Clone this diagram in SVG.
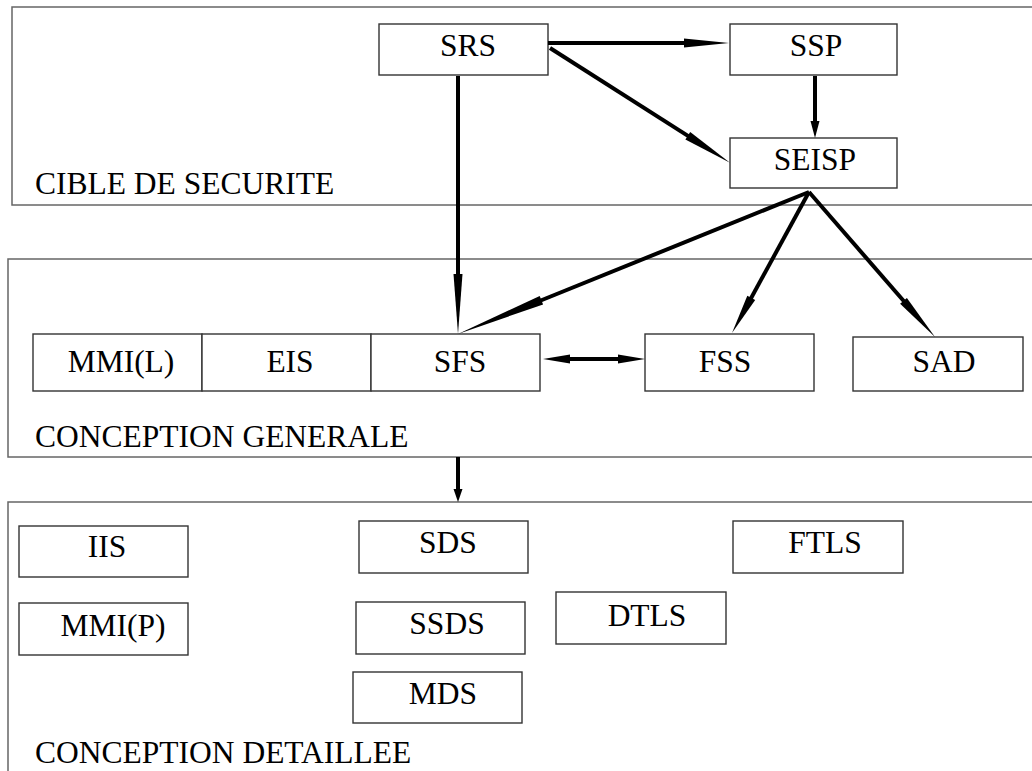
<svg xmlns="http://www.w3.org/2000/svg" width="1032" height="771" viewBox="0 0 1032 771">
<style>
.panel{fill:none;stroke:#666;stroke-width:1.5}
.box{fill:#fff;stroke:#333;stroke-width:1.4}
.lbl{font-size:31.5px;fill:#000;text-anchor:middle}
.plbl{font-size:31.5px;fill:#000}
.ln{stroke:#000;stroke-width:4;fill:none}
.hd{fill:#000;stroke:none}
</style>
<rect width="1032" height="771" fill="#fff"/>
<g font-family="'Liberation Serif', 'DejaVu Serif', 'Times New Roman', Times, serif">
<g id="panel-cible">
<rect class="panel" x="12" y="7" width="1040" height="198"/>
<text class="plbl" x="35" y="194">CIBLE DE SECURITE</text>
</g>
<g id="panel-generale">
<rect class="panel" x="8" y="259" width="1044" height="198"/>
<text class="plbl" x="35" y="447">CONCEPTION GENERALE</text>
</g>
<g id="panel-detaillee">
<rect class="panel" x="8" y="502" width="1044" height="300"/>
<text class="plbl" x="35" y="763">CONCEPTION DETAILLEE</text>
</g>
<g id="SRS"><rect class="box" x="379" y="24" width="169" height="51"/><text class="lbl" x="468" y="56">SRS</text></g>
<g id="SSP"><rect class="box" x="730" y="24" width="167" height="51"/><text class="lbl" x="816" y="56">SSP</text></g>
<g id="SEISP"><rect class="box" x="730" y="138" width="167" height="50"/><text class="lbl" x="815" y="170">SEISP</text></g>
<g id="MMI-L"><rect class="box" x="33" y="334" width="169" height="57"/><text class="lbl" x="121" y="372">MMI(L)</text></g>
<g id="EIS"><rect class="box" x="202" y="334" width="169" height="57"/><text class="lbl" x="290" y="372">EIS</text></g>
<g id="SFS"><rect class="box" x="371" y="334" width="169" height="57"/><text class="lbl" x="460" y="372">SFS</text></g>
<g id="FSS"><rect class="box" x="645" y="334" width="169" height="57"/><text class="lbl" x="725" y="372">FSS</text></g>
<g id="SAD"><rect class="box" x="853" y="337" width="170" height="54"/><text class="lbl" x="944" y="372">SAD</text></g>
<g id="IIS"><rect class="box" x="19" y="526" width="169" height="51"/><text class="lbl" x="107" y="557">IIS</text></g>
<g id="MMI-P"><rect class="box" x="19" y="603" width="169" height="52"/><text class="lbl" x="113" y="636">MMI(P)</text></g>
<g id="SDS"><rect class="box" x="359" y="521" width="169" height="52"/><text class="lbl" x="448" y="553">SDS</text></g>
<g id="SSDS"><rect class="box" x="356" y="602" width="169" height="52"/><text class="lbl" x="447" y="634">SSDS</text></g>
<g id="MDS"><rect class="box" x="353" y="672" width="169" height="51"/><text class="lbl" x="443" y="704">MDS</text></g>
<g id="DTLS"><rect class="box" x="556" y="592" width="170" height="52"/><text class="lbl" x="647" y="626">DTLS</text></g>
<g id="FTLS"><rect class="box" x="733" y="521" width="170" height="52"/><text class="lbl" x="825" y="553">FTLS</text></g>
</g>
<g id="connectors">
<line class="ln" x1="548" y1="43" x2="686" y2="43"/>
<polygon class="hd" points="729,43 684,38.5 684,47.5"/>
<line class="ln" x1="550" y1="48" x2="689.5" y2="136.9"/>
<polygon class="hd" points="730,162.7 685.4,139.6 690.2,132"/>
<line class="ln" x1="458" y1="76" x2="458" y2="276"/>
<polygon class="hd" points="458,334 453.5,274 462.5,274"/>
<line class="ln" x1="815" y1="76" x2="815" y2="123"/>
<polygon class="hd" points="815,138 810.5,121 819.5,121"/>
<line class="ln" x1="809" y1="192" x2="539.5" y2="301"/>
<polygon class="hd" points="458,334 539.7,296 543.1,304.4"/>
<line class="ln" x1="809" y1="192" x2="750.2" y2="299.7"/>
<polygon class="hd" points="732,333 747.3,295.7 755.2,300.1"/>
<line class="ln" x1="809" y1="192" x2="904.8" y2="302.3"/>
<polygon class="hd" points="935,337 900.1,303.8 906.9,297.9"/>
<line class="ln" x1="458" y1="457" x2="458" y2="491"/>
<polygon class="hd" points="458,502 453.5,489 462.5,489"/>
<line class="ln" x1="568" y1="359" x2="620" y2="359"/>
<polygon class="hd" points="543,359 570,354.5 570,363.5"/>
<polygon class="hd" points="645,359 618,354.5 618,363.5"/>
</g>
</svg>
